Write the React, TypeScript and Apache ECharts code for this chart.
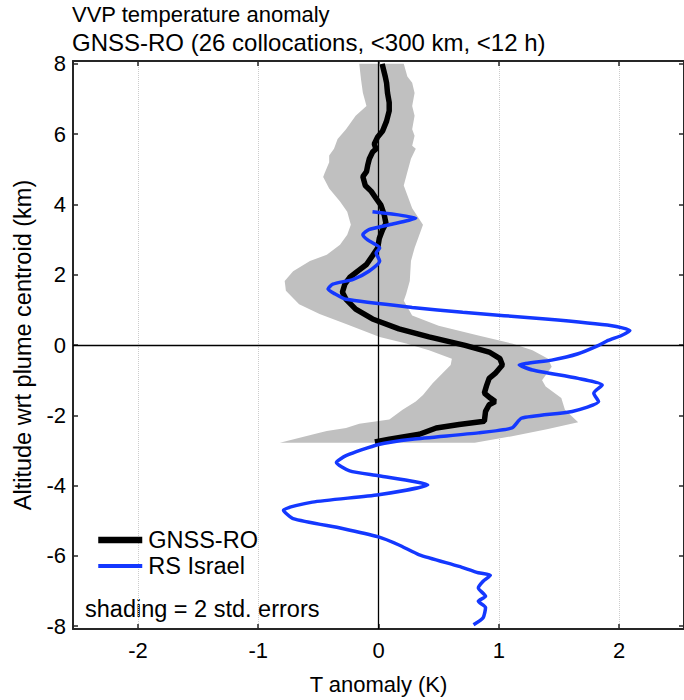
import React, { useEffect, useRef } from 'react';
import * as echarts from 'echarts';

const titleLines = ['VVP temperature anomaly', 'GNSS-RO (26 collocations, <300 km, <12 h)'];
const xAxisName = 'T anomaly (K)';
const yAxisName = 'Altitude wrt plume centroid (km)';
const shadingNote = 'shading = 2 std. errors';
const seriesNames = ['GNSS-RO', 'RS Israel'];
const xTicks = [-2, -1, 0, 1, 2];
const yTicks = [-8, -6, -4, -2, 0, 2, 4, 6, 8];
const zeroLines = { x: 0, y: 0 };

// GNSS-RO mean profile (T anomaly K, altitude km)
const gnssT = [0.03, 0.056, 0.067, 0.075, 0.089, 0.089, 0.067, 0.034, -0.007, -0.035, -0.021, -0.049, -0.076, -0.09, -0.1, -0.13, -0.11, -0.06, -0.02, 0.02, 0.048, 0.062, 0.034, 0.007, -0.007, -0.05, -0.1, -0.17, -0.24, -0.28, -0.3, -0.27, -0.19, -0.05, 0.17, 0.42, 0.72, 0.92, 1.01, 1.03, 0.97, 0.92, 0.9, 0.88, 0.93, 0.97, 0.92, 0.89, 0.88, 0.67, 0.48, 0.34, 0.09, -0.03];
const gnssAlt = [8.0, 7.64, 7.46, 7.17, 6.9, 6.66, 6.37, 6.09, 5.92, 5.72, 5.58, 5.49, 5.3, 5.11, 4.93, 4.79, 4.54, 4.37, 4.17, 3.98, 3.7, 3.46, 3.28, 3.04, 2.76, 2.54, 2.29, 2.11, 1.92, 1.73, 1.5, 1.3, 1.02, 0.74, 0.46, 0.23, -0.01, -0.2, -0.39, -0.57, -0.81, -0.95, -1.14, -1.37, -1.51, -1.61, -1.7, -1.89, -2.17, -2.26, -2.36, -2.54, -2.68, -2.76];

// shading: left edge (top to bottom) and right edge (bottom to top)
const bandLeftT = [-0.16, -0.145, -0.13, -0.1, -0.19, -0.27, -0.34, -0.37, -0.41, -0.41, -0.45, -0.46, -0.41, -0.32, -0.26, -0.23, -0.26, -0.32, -0.43, -0.57, -0.71, -0.78, -0.77, -0.66, -0.49, -0.27, 0.01, 0.23, 0.42, 0.61, 0.6, 0.53, 0.45, 0.37, 0.31, 0.2, 0.09, -0.16, -0.27, -0.43, -0.49, -0.82];
const bandLeftAlt = [8.0, 7.55, 7.18, 6.8, 6.52, 6.14, 5.86, 5.58, 5.39, 5.2, 4.87, 4.78, 4.45, 4.08, 3.79, 3.42, 3.14, 2.85, 2.57, 2.39, 2.1, 1.82, 1.54, 1.16, 0.88, 0.6, 0.23, 0.04, -0.15, -0.39, -0.57, -0.81, -1.09, -1.42, -1.61, -1.84, -2.12, -2.24, -2.36, -2.45, -2.5, -2.78];
const bandRightT = [0.8, 1.1, 1.4, 1.66, 1.55, 1.52, 1.39, 1.36, 1.44, 1.41, 1.28, 1.11, 0.83, 0.5, 0.28, 0.21, 0.23, 0.26, 0.27, 0.3, 0.34, 0.37, 0.28, 0.24, 0.21, 0.24, 0.27, 0.31, 0.28, 0.3, 0.28, 0.3, 0.28, 0.3, 0.28, 0.24, 0.21];
const bandRightAlt = [-2.78, -2.6, -2.4, -2.2, -1.84, -1.51, -1.18, -1.0, -0.62, -0.39, -0.15, 0.04, 0.27, 0.55, 0.84, 1.26, 1.45, 1.82, 2.39, 2.76, 3.14, 3.42, 3.89, 4.26, 4.54, 4.92, 5.3, 5.58, 5.67, 5.95, 6.14, 6.52, 6.8, 7.17, 7.46, 7.64, 8.0];

// RS Israel profile
const rsT = [-0.05, 0.31, 0.09, -0.08, -0.13, -0.09, 0.01, -0.02, 0.01, -0.08, -0.21, -0.38, -0.42, -0.36, -0.27, 0.28, 0.7, 1.39, 1.94, 2.09, 2.02, 1.91, 1.83, 1.66, 1.44, 1.17, 1.28, 1.66, 1.86, 1.79, 1.83, 1.61, 1.19, 1.11, 0.83, 0.28, 0.0, -0.27, -0.35, -0.24, 0.0, 0.41, 0.0, -0.55, -0.79, -0.71, -0.3, 0.0, 0.17, 0.34, 0.67, 0.83, 0.93, 0.87, 0.83, 0.89, 0.83, 0.89, 0.87, 0.79];
const rsAlt = [3.79, 3.61, 3.42, 3.28, 3.14, 2.99, 2.76, 2.62, 2.39, 2.1, 1.87, 1.73, 1.59, 1.45, 1.3, 1.07, 0.93, 0.74, 0.55, 0.41, 0.27, 0.13, -0.01, -0.25, -0.43, -0.57, -0.71, -0.95, -1.14, -1.37, -1.61, -1.89, -2.08, -2.36, -2.5, -2.68, -2.83, -3.15, -3.34, -3.58, -3.72, -3.98, -4.26, -4.47, -4.7, -4.94, -5.22, -5.46, -5.69, -5.97, -6.3, -6.48, -6.55, -6.72, -6.91, -7.15, -7.29, -7.47, -7.76, -7.96];

export default function App() {
  const ref = useRef<HTMLDivElement>(null);
  useEffect(() => {
    const chart = echarts.init(ref.current!, null, { renderer: 'svg' });
    const font = '"Liberation Sans", Arial, Helvetica, sans-serif';
    const frame = '#262626';
    const blue = '#1438ff';
    const gnss = gnssT.map((t, i) => [t, gnssAlt[i]]);
    const rs = rsT.map((t, i) => [t, rsAlt[i]]);
    const bandPoly = [
      ...bandLeftT.map((t, i) => [t, bandLeftAlt[i]]),
      ...bandRightT.map((t, i) => [t, bandRightAlt[i]]),
    ];
    const xCommon: any = {
      type: 'value', min: -2.54, max: 2.54,
      axisLine: { show: true, onZero: false, lineStyle: { color: frame, width: 2 } },
      axisTick: { show: true, inside: true, length: 5, customValues: xTicks, lineStyle: { color: frame, width: 1.5 } },
    };
    const yCommon: any = {
      type: 'value', min: -8.08, max: 8.08,
      axisLine: { show: true, onZero: false, lineStyle: { color: frame, width: 2 } },
      axisTick: { show: true, inside: true, length: 5, customValues: yTicks, lineStyle: { color: frame, width: 1.5 } },
      splitLine: { show: false },
    };
    chart.setOption({
      animation: false,
      textStyle: { fontFamily: font },
      title: {
        text: `{a|${titleLines[0]}}\n{b|${titleLines[1]}}`, left: 72, top: 0, padding: 0,
        textStyle: {
          fontSize: 22, fontWeight: 'normal', color: '#000', lineHeight: 28, fontFamily: font,
          rich: {
            a: { fontSize: 22, lineHeight: 28, color: '#000', fontFamily: font },
            b: { fontSize: 24, lineHeight: 28, color: '#000', fontFamily: font },
          },
        },
      },
      grid: { left: 73, top: 61, width: 613, height: 573 },
      legend: {
        data: [
          { name: seriesNames[0], lineStyle: { width: 6.5, color: '#000' } },
          { name: seriesNames[1], lineStyle: { width: 4, color: blue } },
        ],
        orient: 'vertical', left: 90, top: 523,
        itemWidth: 44, itemHeight: 14, itemGap: 2,
        itemStyle: { opacity: 0 },
        textStyle: { fontSize: 23.5, color: '#000', fontFamily: font, padding: [0, 0, 0, 1] },
      },
      xAxis: [
        {
          ...xCommon, position: 'bottom',
          name: xAxisName, nameLocation: 'middle', nameGap: 44,
          nameTextStyle: { fontSize: 22, color: '#000', fontFamily: font },
          axisLabel: { customValues: xTicks, fontSize: 22, color: '#000', margin: 10, fontFamily: font },
          splitLine: { show: true, lineStyle: { color: '#cccccc', type: 'dotted', width: 1 } },
        },
        { ...xCommon, position: 'top', axisLabel: { show: false }, splitLine: { show: false } },
      ],
      yAxis: [
        {
          ...yCommon, position: 'left',
          name: yAxisName, nameLocation: 'middle', nameGap: 38,
          nameTextStyle: { fontSize: 23.5, color: '#000', fontFamily: font },
          axisLabel: { customValues: yTicks, fontSize: 22, color: '#000', margin: 7, fontFamily: font },
        },
        { ...yCommon, position: 'right', axisLabel: { show: false } },
      ],
      graphic: [
        { type: 'text', left: 85, top: 597, style: { text: shadingNote, fill: '#000', font: `23.5px ${font}` } },
      ],
      series: [
        {
          type: 'custom', name: 'shading', z: 1, silent: true,
          data: [[0, 0]],
          renderItem: (params: any, api: any) => ({
            type: 'polygon',
            shape: { points: bandPoly.map((p) => api.coord(p)) },
            style: { fill: '#c0c0c0' },
          }),
        },
        {
          type: 'line', name: 'zero', data: [], z: 3, silent: true,
          markLine: {
            symbol: ['none', 'none'], silent: true, label: { show: false },
            lineStyle: { color: '#000', width: 1.3, type: 'solid' },
            data: [{ xAxis: zeroLines.x }, { yAxis: zeroLines.y }],
          },
        },
        {
          type: 'line', name: seriesNames[0], data: gnss, symbol: 'none', z: 4,
          lineStyle: { color: '#000', width: 5.5 }, itemStyle: { color: '#000' },
        },
        {
          type: 'line', name: seriesNames[1], data: rs, symbol: 'none', z: 5, smooth: 0.2,
          lineStyle: { color: blue, width: 3.5 }, itemStyle: { color: blue },
        },
      ],
    });
    return () => chart.dispose();
  }, []);
  return <div ref={ref} style={{ position: 'absolute', left: 0, top: 0, width: 684, height: 700 }} />;
}
